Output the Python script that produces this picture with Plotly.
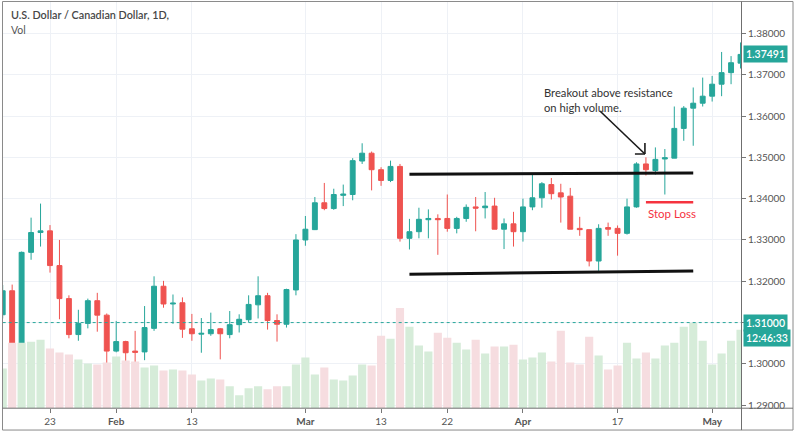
import pandas as pd
import plotly.graph_objects as go

# ---------------- data ----------------
dates = pd.bdate_range("2017-01-16", "2017-05-04").strftime("%Y-%m-%d").tolist()

opens = [1.3119, 1.3177, 1.3041, 1.3270, 1.3318, 1.3322, 1.3238, 1.3158, 1.3071, 1.3098,
         1.3153, 1.3118, 1.3031, 1.3054, 1.3031, 1.3029, 1.3086, 1.3188, 1.3145, 1.3148,
         1.3085, 1.3072, 1.3073, 1.3085, 1.3071, 1.3095, 1.3107, 1.3143, 1.3165, 1.3105,
         1.3096, 1.3179, 1.3300, 1.3325, 1.3390, 1.3376, 1.3408, 1.3410, 1.3491, 1.3510,
         1.3470, 1.3444, 1.3478, 1.3304, 1.3320, 1.3349, 1.3352, 1.3352, 1.3328, 1.3352,
         1.3380, 1.3378, 1.3382, 1.3326, 1.3339, 1.3320, 1.3380, 1.3402, 1.3434, 1.3414,
         1.3406, 1.3328, 1.3325, 1.3249, 1.3330, 1.3328, 1.3316, 1.3380, 1.3484, 1.3468,
         1.3496, 1.3498, 1.3570, 1.3619, 1.3631, 1.3648, 1.3677, 1.3705, 1.3728]
highs = [1.3191, 1.3192, 1.3272, 1.3354, 1.3388, 1.3336, 1.3300, 1.3166, 1.3131, 1.3158,
         1.3172, 1.3122, 1.3104, 1.3056, 1.3080, 1.3140, 1.3212, 1.3201, 1.3168, 1.3161,
         1.3121, 1.3111, 1.3124, 1.3087, 1.3128, 1.3120, 1.3166, 1.3212, 1.3172, 1.3120,
         1.3182, 1.3314, 1.3358, 1.3404, 1.3438, 1.3424, 1.3434, 1.3498, 1.3534, 1.3514,
         1.3476, 1.3492, 1.3484, 1.3351, 1.3378, 1.3374, 1.3362, 1.3410, 1.3356, 1.3386,
         1.3404, 1.3416, 1.3402, 1.3352, 1.3368, 1.3400, 1.3458, 1.3440, 1.3450, 1.3436,
         1.3426, 1.3356, 1.3325, 1.3338, 1.3342, 1.3335, 1.3400, 1.3488, 1.3500, 1.3524,
         1.3520, 1.3623, 1.3624, 1.3669, 1.3693, 1.3697, 1.3755, 1.3745, 1.3778]
lows = [1.3110, 1.3020, 1.3040, 1.3252, 1.3284, 1.3221, 1.3108, 1.3062, 1.3056, 1.3086,
        1.3078, 1.2967, 1.3028, 1.2982, 1.2987, 1.3009, 1.3080, 1.3136, 1.3097, 1.3063,
        1.3056, 1.3027, 1.3068, 1.3011, 1.3062, 1.3076, 1.3100, 1.3110, 1.3083, 1.3054,
        1.3088, 1.3166, 1.3286, 1.3324, 1.3372, 1.3373, 1.3382, 1.3396, 1.3484, 1.3420,
        1.3431, 1.3440, 1.3296, 1.3277, 1.3304, 1.3304, 1.3264, 1.3320, 1.3316, 1.3344,
        1.3321, 1.3352, 1.3326, 1.3278, 1.3284, 1.3296, 1.3372, 1.3378, 1.3398, 1.3342,
        1.3326, 1.3310, 1.3236, 1.3225, 1.3310, 1.3262, 1.3313, 1.3378, 1.3456, 1.3458,
        1.3410, 1.3498, 1.3540, 1.3528, 1.3623, 1.3635, 1.3648, 1.3677, 1.3715]
closes = [1.3177, 1.3041, 1.3270, 1.3318, 1.3322, 1.3238, 1.3158, 1.3071, 1.3098, 1.3153,
          1.3118, 1.3031, 1.3054, 1.3027, 1.3028, 1.3088, 1.3188, 1.3145, 1.3147, 1.3084,
          1.3073, 1.3074, 1.3083, 1.3073, 1.3095, 1.3108, 1.3144, 1.3165, 1.3105, 1.3096,
          1.3180, 1.3300, 1.3326, 1.3390, 1.3376, 1.3410, 1.3411, 1.3492, 1.3510, 1.3470,
          1.3444, 1.3478, 1.3304, 1.3320, 1.3350, 1.3352, 1.3349, 1.3328, 1.3352, 1.3379,
          1.3377, 1.3382, 1.3326, 1.3339, 1.3320, 1.3380, 1.3402, 1.3436, 1.3412, 1.3404,
          1.3326, 1.3325, 1.3249, 1.3328, 1.3326, 1.3316, 1.3380, 1.3484, 1.3470, 1.3495,
          1.3499, 1.3570, 1.3619, 1.3631, 1.3648, 1.3677, 1.3705, 1.3729, 1.37491]
volumes = [40, 66, 66, 67, 69, 60, 56, 54, 49, 45,
           44, 46, 52, 48, 47, 41, 43, 38, 39, 38,
           34, 28, 30, 29, 22, 13, 20, 22, 19, 22,
           22, 44, 51, 34, 41, 29, 28, 33, 44, 43,
           73, 70, 101, 82, 63, 57, 76, 71, 66, 59,
           69, 55, 62, 62, 64, 49, 51, 56, 47, 78,
           46, 44, 72, 53, 39, 43, 66, 50, 56, 50,
           63, 66, 82, 86, 68, 44, 55, 68, 79]

tick_dates = ["2017-01-23", "2017-02-01", "2017-02-13", "2017-03-01", "2017-03-13",
              "2017-03-22", "2017-04-03", "2017-04-17", "2017-05-01"]
tick_text = ["23", "<b>Feb</b>", "13", "<b>Mar</b>", "13", "22", "<b>Apr</b>", "17", "<b>May</b>"]
price_ticks = [1.29, 1.30, 1.31, 1.32, 1.33, 1.34, 1.35, 1.36, 1.37, 1.38]

resistance_dates = ["2017-03-16", "2017-04-27"]
resistance_prices = [1.3459, 1.3462]
support_dates = ["2017-03-16", "2017-04-27"]
support_prices = [1.3217, 1.3225]
stop_dates = ["2017-04-20", "2017-04-27"]
stop_price = 1.3391
last_price = 1.37491
vol_line_price = 1.31
countdown = "12:46:33"
title_text = "U.S. Dollar / Canadian Dollar, 1D,"
arrow_date = "2017-04-20"
arrow_price = 1.3508

# ---------------- figure ----------------
W, H = 800, 439
UP, DOWN = "#26a69a", "#ef5350"
VOL_UP, VOL_DOWN = "#d6ecd9", "#f6dde0"
GRID = "#eef1f6"
TXT = "#555555"
FONT = "Lato"

def px_x(p):
    return p / W

def px_y(p):
    return 1 - p / H

idx = {d: i for i, d in enumerate(dates)}
vol_colors = [VOL_UP if c >= o else VOL_DOWN for o, c in zip(opens, closes)]

# the 1.31 tick label is hidden behind the price box, as in the reference
price_tick_text = ["" if abs(p - vol_line_price) < 1e-9 else f"{p:.5f}" for p in price_ticks]

fig = go.Figure()
fig.add_trace(go.Bar(x=dates, y=volumes, marker=dict(color=vol_colors, line=dict(width=0)),
                     width=0.86, yaxis="y2", hoverinfo="skip"))
fig.add_trace(go.Candlestick(
    x=dates, open=opens, high=highs, low=lows, close=closes,
    increasing=dict(line=dict(color=UP, width=1), fillcolor=UP),
    decreasing=dict(line=dict(color=DOWN, width=1), fillcolor=DOWN),
    whiskerwidth=0, hoverinfo="skip"))

shapes = []
shapes.append(dict(type="line", xref="x", yref="y",
                   x0=idx[resistance_dates[0]], x1=idx[resistance_dates[1]],
                   y0=resistance_prices[0], y1=resistance_prices[1],
                   line=dict(color="#111111", width=3)))
shapes.append(dict(type="line", xref="x", yref="y",
                   x0=idx[support_dates[0]], x1=idx[support_dates[1]],
                   y0=support_prices[0], y1=support_prices[1],
                   line=dict(color="#111111", width=3)))
shapes.append(dict(type="line", xref="x", yref="y",
                   x0=idx[stop_dates[0]], x1=idx[stop_dates[1]],
                   y0=stop_price, y1=stop_price,
                   line=dict(color="#f5333f", width=2.5)))
shapes.append(dict(type="line", xref="x domain", yref="y", x0=0, x1=1,
                   y0=vol_line_price, y1=vol_line_price,
                   line=dict(color=UP, width=1, dash="dot")))
a = idx[arrow_date]
for (x0, y0, x1, y1) in [(-46, 43, -1, 0), (-1, 0, -11, 0), (-1, 0, -1, 11)]:
    shapes.append(dict(type="line", xref="x", yref="y", xsizemode="pixel", ysizemode="pixel",
                       xanchor=a, yanchor=arrow_price, x0=x0, y0=y0, x1=x1, y1=y1,
                       line=dict(color="#1a1a1a", width=1.6)))
shapes.append(dict(type="rect", xref="paper", yref="paper", x0=px_x(2.5), x1=px_x(793),
                   y0=px_y(433), y1=px_y(1.5), line=dict(color="#8a8a8a", width=1)))
shapes.append(dict(type="line", xref="paper", yref="paper", x0=px_x(741.5), x1=px_x(741.5),
                   y0=px_y(433), y1=px_y(1.5), line=dict(color="#6f6f6f", width=1)))
shapes.append(dict(type="line", xref="paper", yref="paper", x0=px_x(2.5), x1=px_x(793),
                   y0=px_y(411), y1=px_y(411), line=dict(color="#6f6f6f", width=1)))

annotations = [
    dict(xref="paper", yref="paper", x=px_x(9), y=px_y(15), xanchor="left", yanchor="middle",
         text=title_text, showarrow=False,
         font=dict(family=FONT, size=10.8, color="#474747", weight=600)),
    dict(xref="paper", yref="paper", x=px_x(9), y=px_y(30), xanchor="left", yanchor="middle",
         text="Vol", showarrow=False, font=dict(family=FONT, size=10.5, color="#555555")),
    dict(xref="x", yref="y", x=idx["2017-04-05"], y=1.3638, xanchor="left", yanchor="middle",
         text="Breakout above resistance<br>on high volume.", align="left", showarrow=False,
         font=dict(family=FONT, size=11.2, color="#333333")),
    dict(xref="x", yref="y", x=idx["2017-04-20"], y=1.3365, xanchor="left", yanchor="middle",
         text="Stop Loss", showarrow=False, font=dict(family=FONT, size=11.5, color="#f5333f")),
    dict(xref="paper", yref="y", x=px_x(742.5), y=last_price, xanchor="left", yanchor="middle",
         text=f"{last_price:.5f}", showarrow=False, bgcolor=UP, borderpad=2,
         font=dict(family=FONT, size=10.5, color="white", weight=600)),
    dict(xref="paper", yref="y", x=px_x(742.5), y=vol_line_price, xanchor="left", yanchor="middle",
         text=f"{vol_line_price:.5f}", showarrow=False, bgcolor=UP, borderpad=2,
         font=dict(family=FONT, size=10.5, color="white", weight=600)),
    dict(xref="paper", yref="y", x=px_x(742.5), y=vol_line_price, xanchor="left", yanchor="middle",
         yshift=-15.5, text=countdown, showarrow=False, bgcolor=UP, borderpad=2,
         font=dict(family=FONT, size=10.5, color="white", weight=600)),
]

ybot, ytop = 1.28928, 1.38767
fig.update_layout(
    width=W, height=H, margin=dict(l=0, r=0, t=0, b=0),
    paper_bgcolor="white", plot_bgcolor="white",
    showlegend=False, hovermode=False, boxgap=0.26, bargap=0.1,
    xaxis=dict(type="category", domain=[px_x(2.7), px_x(741)], range=[0.0, 78.05],
               rangeslider=dict(visible=False),
               tickmode="array", tickvals=tick_dates, ticktext=tick_text,
               showgrid=True, gridcolor=GRID, gridwidth=1,
               ticks="outside", ticklen=4, tickcolor="#777777", showline=False,
               tickfont=dict(family=FONT, size=10, color=TXT)),
    yaxis=dict(side="right", domain=[px_y(411), px_y(1.7)], range=[ybot, ytop],
               tickmode="array", tickvals=price_ticks, ticktext=price_tick_text,
               showgrid=True, gridcolor=GRID, gridwidth=1, zeroline=False,
               ticks="outside", ticklen=4, tickcolor="#777777", showline=False,
               tickfont=dict(family=FONT, size=10, color=TXT)),
    yaxis2=dict(overlaying="y", range=[0, 409.3], visible=False, showgrid=False),
    shapes=shapes, annotations=annotations,
)

fig.write_html("out.html")
